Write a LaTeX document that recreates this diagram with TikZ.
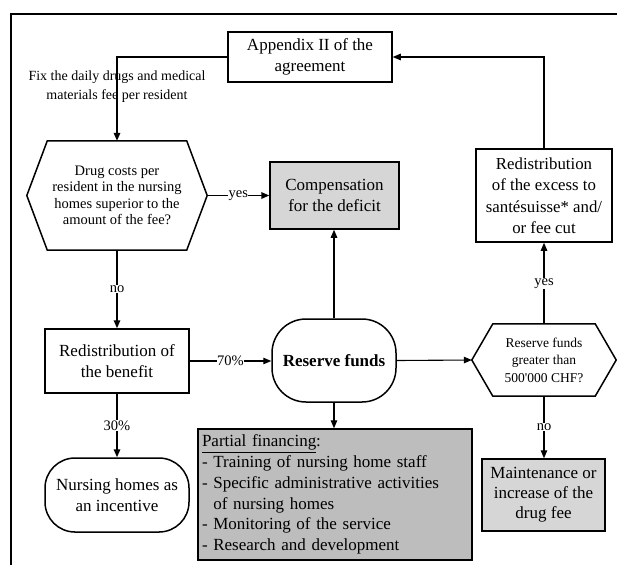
\documentclass[tikz,border=0pt]{standalone}
\usepackage{fontspec}
\setmainfont{Liberation Serif}
\usetikzlibrary{arrows.meta,calc}
\begin{document}
\begin{tikzpicture}[x=1pt,y=-1pt,
  box/.style={draw, line width=1.5pt, inner sep=1pt, align=center},
  plain/.style={inner sep=1pt, align=center},
  arrthick/.style={line width=1.6pt, -{Triangle[length=8pt,width=6.5pt]}},
  arrthin/.style={line width=1.1pt, -{Triangle[length=8pt,width=6.5pt]}},
  lab/.style={fill=white, inner sep=0.6pt, font=\fontsize{14.5}{16}\selectfont},
  bigtxt/.style={font=\fontsize{17}{20.5}\selectfont},
  gA/.style={fill=black!16},
  gB/.style={fill=black!26}]
\useasboundingbox (0,0) rectangle (617,565);
% frame
\coordinate (fTL) at (11,14);
\coordinate (fTR) at (617,14);
\coordinate (fBL) at (11,565);
\draw[line width=1.2pt] (fTR) -- (fTL) -- (fBL);

% nodes
\node[box, bigtxt, minimum width=164pt, minimum height=50pt] (app) at (310,57) {Appendix II of the\\agreement};
\node[plain, minimum width=180pt, minimum height=109pt, font=\fontsize{14.5}{16.5}\selectfont] (hex1) at (117,195.5) {Drug costs per\\resident in the nursing\\homes superior to the\\amount of the fee?};
\draw[line width=1.5pt] (hex1.west) -- ([xshift=20.5pt]hex1.north west) -- ([xshift=-20.5pt]hex1.north east) -- (hex1.east) -- ([xshift=-20.5pt]hex1.south east) -- ([xshift=20.5pt]hex1.south west) -- cycle;
\node[box, bigtxt, gA, minimum width=129pt, minimum height=67pt] (comp) at (334.5,195.5) {Compensation\\for the deficit};
\node[box, bigtxt, minimum width=136pt, minimum height=93pt, font=\fontsize{16.8}{21.5}\selectfont] (exc) at (544,195.5) {Redistribution\\of the excess to\\santésuisse* and/\\or fee cut};
\node[box, bigtxt, minimum width=144pt, minimum height=64pt] (ben) at (117,361) {Redistribution of\\the benefit};
\node[box, minimum width=124pt, minimum height=83pt, rounded corners=34pt, font=\fontsize{17}{20.5}\selectfont\bfseries] (res) at (334,360.5) {Reserve funds};
\node[plain, minimum width=144pt, minimum height=72pt, font=\fontsize{13.5}{17.5}\selectfont] (hex2) at (544,360) {Reserve funds\\greater than\\500\textquotesingle 000 CHF?};
\draw[line width=1.5pt] (hex2.west) -- ([xshift=21pt]hex2.north west) -- ([xshift=-21pt]hex2.north east) -- (hex2.east) -- ([xshift=-21pt]hex2.south east) -- ([xshift=21pt]hex2.south west) -- cycle;
\node[box, bigtxt, minimum width=144pt, minimum height=74pt, rounded corners=30pt] (nur) at (117,495) {Nursing homes as\\an incentive};
\node[box, gB, minimum width=274pt, minimum height=131pt, text width=266pt, align=left, inner xsep=2pt, font=\fontsize{17}{20.8}\selectfont] (par) at (335,494.5) {\underline{Partial financing}:\\- Training of nursing home staff\\- Specific administrative activities\\\hphantom{- }of nursing homes\\- Monitoring of the service\\- Research and development};
\node[box, bigtxt, gA, minimum width=123pt, minimum height=72pt, font=\fontsize{17}{20}\selectfont] (mai) at (543.5,495) {Maintenance or\\increase of the\\drug fee};
\node[plain, font=\fontsize{14}{19}\selectfont] (fix) at (117,87) {Fix the daily drugs and medical\\materials fee per resident};

% connectors
\draw[arrthick] (app.west) -| (hex1.north);
\draw[arrthin] (exc.north) |- (app.east);
\draw[arrthick] (hex1.east) -- node[lab]{yes} (comp.west |- hex1.east);
\draw[arrthick] (hex1.south) -- node[lab]{no} (ben.north);
\draw[arrthin] (ben.east) -- node[lab]{70\%} (res.west |- ben.east);
\draw[arrthin] (res.north) -- (comp.south -| res.north);
\draw[arrthin] (res.east) -- (hex2.west);
\draw[arrthin] (hex2.north) -- node[lab]{yes} (exc.south);
\draw[arrthin] (hex2.south) -- node[lab]{no} (mai.north -| hex2.south);
\draw[arrthick] (ben.south) -- node[lab]{30\%} (nur.north);
\draw[arrthin] (res.south) -- (par.north -| res.south);
\end{tikzpicture}
\end{document}
